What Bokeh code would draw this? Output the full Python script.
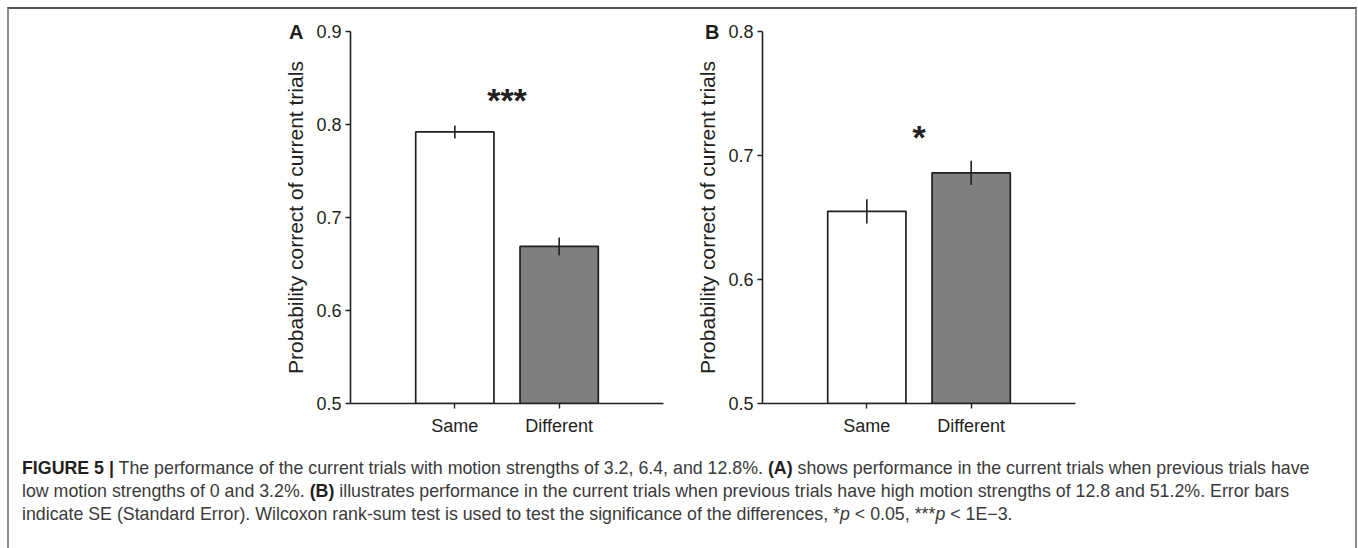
from bokeh.plotting import figure
from bokeh.layouts import column, row
from bokeh.models import Range1d, FixedTicker, LinearAxis, Div, ColumnDataSource
from bokeh.embed import file_html
from bokeh.resources import INLINE
from bokeh.core.properties import value

# ---- data ----
categories = ["Same", "Different"]
cat_pos = [1, 2]
bar_colors = ["#ffffff", "#7f7f7f"]

a_means = [0.792, 0.669]
a_se = [0.007, 0.0095]
a_ticks = [0.5, 0.6, 0.7, 0.8, 0.9]
a_sig = "***"
a_sig_y = 0.826

b_means = [0.655, 0.686]
b_se = [0.0098, 0.0098]
b_ticks = [0.5, 0.6, 0.7, 0.8]
b_sig = "*"
b_sig_y = 0.715

y_label = "Probability correct of current trials"

FONT = "Liberation Sans"
INK = "#231f20"


def panel(means, ses, ticks, sig, sig_y, letter, width, mbl, mbr, letter_standoff):
    p = figure(width=width, height=436,
               x_range=Range1d(0, 3), y_range=Range1d(ticks[0], ticks[-1]),
               min_border_left=mbl, min_border_right=mbr,
               min_border_top=22, min_border_bottom=42,
               toolbar_location=None, tools="", output_backend="svg")
    src = ColumnDataSource(dict(
        x=cat_pos, top=means,
        lo=[m - s for m, s in zip(means, ses)],
        hi=[m + s for m, s in zip(means, ses)],
        color=bar_colors))
    p.vbar(x="x", top="top", bottom=ticks[0], width=0.75, source=src,
           fill_color="color", line_color=INK, line_width=1.7)
    p.segment(x0="x", y0="lo", x1="x", y1="hi", source=src,
              line_color=INK, line_width=1.6)
    p.text(x=[sum(cat_pos) / len(cat_pos)], y=[sig_y], text=[sig],
           text_align="center", text_baseline="alphabetic",
           text_font=value(FONT), text_font_size="34px",
           text_font_style="bold", text_color=INK)

    p.grid.visible = False
    p.outline_line_color = None

    for ax in (p.xaxis[0], p.yaxis[0]):
        ax.axis_line_color = INK
        ax.axis_line_width = 1.6
        ax.major_tick_line_color = INK
        ax.major_tick_line_width = 1.4
        ax.major_tick_in = 0
        ax.major_tick_out = 5
        ax.minor_tick_line_color = None
        ax.major_label_text_font = FONT
        ax.major_label_text_font_size = "18px"
        ax.major_label_text_color = INK

    p.yaxis.ticker = FixedTicker(ticks=ticks)
    p.yaxis.major_label_standoff = 4
    p.yaxis.axis_label = y_label
    p.yaxis.axis_label_text_font = FONT
    p.yaxis.axis_label_text_font_size = "21px"
    p.yaxis.axis_label_text_font_style = "normal"
    p.yaxis.axis_label_text_color = INK
    p.yaxis.axis_label_standoff = 6

    p.xaxis.ticker = FixedTicker(ticks=cat_pos)
    p.xaxis.major_label_overrides = {c: n for c, n in zip(cat_pos, categories)}
    p.xaxis.major_label_standoff = 7

    # panel letter, shown as the only label of an outer, line-less axis
    letter_axis = LinearAxis(ticker=FixedTicker(ticks=[ticks[-1]]),
                             major_label_overrides={ticks[-1]: letter},
                             axis_line_color=None, major_tick_line_color=None,
                             minor_tick_line_color=None,
                             major_tick_out=0, major_tick_in=0,
                             major_label_standoff=letter_standoff,
                             major_label_text_font=FONT,
                             major_label_text_font_size="20px",
                             major_label_text_font_style="bold",
                             major_label_text_color=INK)
    p.add_layout(letter_axis, "left")
    return p


pA = panel(a_means, a_se, a_ticks, a_sig, a_sig_y, "A", 655, 341, 1, -22)
pB = panel(b_means, b_se, b_ticks, b_sig, b_sig_y, "B", 691, 98, 280, -26)

caption_html = (
    '<div style="padding:12px 0 0 13px; font-family:\'Liberation Sans\', sans-serif; '
    'font-size:17.8px; line-height:23px; color:#3a3a3a; white-space:nowrap;">'
    '<b style="color:#231f20">FIGURE 5 |</b> The performance of the current trials with motion strengths of 3.2, 6.4, and 12.8%. '
    '<b style="color:#231f20">(A)</b> shows performance in the current trials when previous trials have<br>'
    'low motion strengths of 0 and 3.2%. <b style="color:#231f20">(B)</b> illustrates performance in the current trials '
    'when previous trials have high motion strengths of 12.8 and 51.2%. Error bars<br>'
    'indicate SE (Standard Error). Wilcoxon rank-sum test is used to test the significance of the differences, '
    '*<i>p</i> &lt; 0.05, ***<i>p</i> &lt; 1E\u22123.'
    '</div>'
)
cap = Div(text=caption_html, width=1346, height=103, margin=0)

layout = column(row(pA, pB, spacing=0), cap, spacing=0, margin=(7, 0, 0, 7),
                styles={"border-top": "2px solid #555555",
                        "border-left": "2px solid #8c8c8c",
                        "border-right": "2px solid #8c8c8c"})

open("out.html", "w").write(file_html(layout, INLINE))
